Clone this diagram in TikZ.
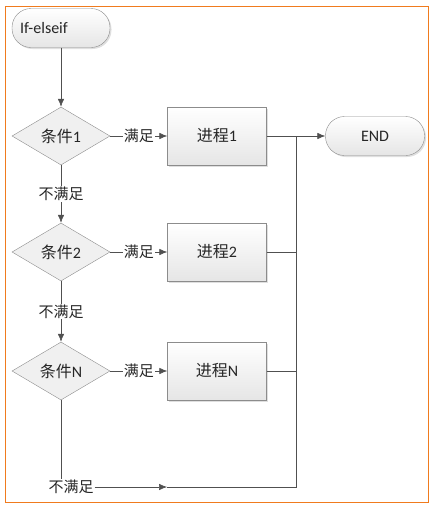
\documentclass[tikz,border=0pt]{standalone}
\usepackage{fontspec}
\setmainfont{Carlito}
\newfontfamily\cjk{Noto Sans CJK SC}
\usetikzlibrary{shapes,arrows.meta,positioning,calc,shadows}
\definecolor{edge}{HTML}{505050}
\definecolor{boxline}{HTML}{8C8C8C}
\definecolor{ink}{HTML}{262626}
\definecolor{frame}{HTML}{F07B1E}

\begin{document}
\begin{tikzpicture}[x=1pt, y=-1pt,
  font=\fontsize{16}{19}\selectfont, text=ink,
  shade box/.style={draw=boxline, thin, top color=white, bottom color=black!10,
    drop shadow={opacity=0.25, shadow xshift=1.5pt, shadow yshift=-1.5pt}},
  endbox/.style={shade box, rectangle, rounded corners=19pt, minimum width=98pt, minimum height=39pt},
  procbox/.style={shade box, rectangle, minimum width=99pt, minimum height=58pt},
  condbox/.style={diamond, draw=boxline, thin, fill=black!6, minimum width=98pt, minimum height=58pt, inner sep=0pt},
  lbl/.style={fill=white, text=ink, inner sep=1pt, font=\fontsize{15}{18}\selectfont\cjk},
  line/.style={edge, semithick},
  arr/.style={line, -{Latex[length=8pt, width=6.5pt]}}
]
  \useasboundingbox (0,0) rectangle (433,509);
  \draw[frame, thick] (5,6) rectangle (428,502);

  \node[endbox, text width=82pt, align=left, inner xsep=8pt] (start) at (61,28) {If-elseif};
  \node[endbox, minimum width=99pt] (end) at (375,136) {END};

  \node[condbox] (c1) at (61,136) {{\cjk 条件}1};
  \node[condbox] (c2) at (61,252) {{\cjk 条件}2};
  \node[condbox] (cn) at (61,371) {{\cjk 条件}N};

  \node[procbox] (p1) at (217,136) {{\cjk 进程}1};
  \node[procbox] (p2) at (217,252) {{\cjk 进程}2};
  \node[procbox] (pn) at (217,371) {{\cjk 进程}N};

  \node[lbl] (no) at (71,487) {不满足};
  \coordinate (mid) at (167,487);
  \coordinate (jb) at (296,487);
  \coordinate (jt) at (296,136);

  \draw[arr] (start) -- (c1);
  \draw[arr] (c1) -- node[lbl] {不满足} (c2);
  \draw[arr] (c2) -- node[lbl] {不满足} (cn);

  \draw[arr] (c1) -- node[lbl] {满足} (p1);
  \draw[arr] (c2) -- node[lbl] {满足} (p2);
  \draw[arr] (cn) -- node[lbl] {满足} (pn);

  \draw[arr] (p1) -- (end);
  \draw[line] (p2.east) -- (p2.east -| jt);
  \draw[line] (pn.east) -- (pn.east -| jt);

  \draw[line] (cn.south) -- (cn.south |- no.north);
  \draw[arr] (no.east) -- (mid);
  \draw[line] (mid) -- (jb) -- (jt);
\end{tikzpicture}
\end{document}
